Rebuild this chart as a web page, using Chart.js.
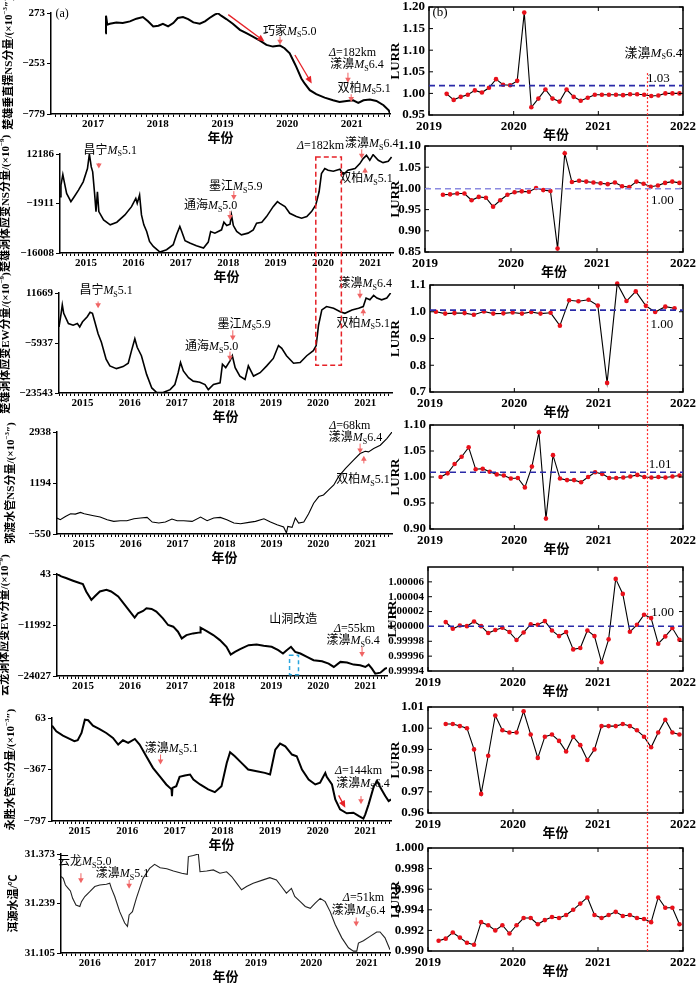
<!DOCTYPE html>
<html>
<head>
<meta charset="utf-8">
<script src="https://cdn.jsdelivr.net/npm/chart.js@4.4.0/dist/chart.umd.min.js"></script>
<style>
html, body { margin: 0; padding: 0; background: #fff; }
#page { position: relative; width: 700px; height: 983px; overflow: hidden; background: #fff; }
canvas { position: absolute; }
</style>
</head>
<body>
<div id="page"></div>
<script>
// ---------- left column: station records (decimal year, value) ----------
const p1Year = [2017.69,2017.70,2017.72,2017.76,2017.86,2017.96,2018.07,2018.17,2018.27,2018.35,2018.43,2018.51,2018.58,2018.66,2018.74,2018.81,2018.89,2018.97,2019.05,2019.15,2019.23,2019.30,2019.38,2019.43,2019.48,2019.56,2019.66,2019.77,2019.87,2019.97,2020.08,2020.18,2020.28,2020.39,2020.46,2020.54,2020.59,2020.64,2020.72,2020.77,2020.85,2020.95,2021.08,2021.21,2021.31,2021.42,2021.52,2021.60,2021.68,2021.78,2021.88,2021.99,2022.07,2022.09];
const p1Val = [63,245,151,161,175,168,186,214,231,186,133,140,161,133,168,221,231,210,175,161,186,221,256,270,245,210,161,98,63,28,-14,-59,-77,-66,-94,-146,-216,-286,-409,-461,-531,-573,-608,-636,-653,-643,-636,-664,-636,-629,-643,-688,-740,-775];
const p1Ticks = [-779, -253, 273];

const p2Year = [2014.95,2014.97,2015.01,2015.04,2015.09,2015.18,2015.25,2015.34,2015.44,2015.53,2015.57,2015.61,2015.64,2015.68,2015.71,2015.74,2015.77,2015.87,2016.01,2016.15,2016.32,2016.46,2016.55,2016.58,2016.63,2016.67,2016.72,2016.78,2016.84,2016.92,2017.06,2017.20,2017.34,2017.41,2017.48,2017.52,2017.59,2017.69,2017.83,2017.98,2018.08,2018.13,2018.22,2018.36,2018.41,2018.47,2018.54,2018.57,2018.61,2018.68,2018.78,2018.92,2019.03,2019.10,2019.21,2019.31,2019.45,2019.54,2019.59,2019.70,2019.80,2019.94,2020.05,2020.16,2020.26,2020.35,2020.42,2020.47,2020.54,2020.61,2020.72,2020.86,2020.93,2021.03,2021.18,2021.28,2021.35,2021.42,2021.49,2021.56,2021.67,2021.77,2021.88,2021.95];
const p2Val = [21,3322,6340,4265,964,-1393,21,1907,4265,8037,12186,8509,7094,964,-4222,1436,-4222,-6579,-7994,-7240,-5165,-2808,-450,-1865,493,-5165,-7994,-9880,-12709,-14124,-15727,-15067,-13653,-10824,-8466,-9880,-12520,-13181,-13935,-14595,-12898,-9880,-10352,-9408,-7240,-8183,-7806,-5165,-8183,-9880,-10824,-10352,-9408,-7523,-7240,-5637,-2808,-1393,-1865,-2808,-4693,-5637,-6108,-5637,-4222,-2337,1436,6622,8037,7565,7283,7848,6340,7565,8037,9451,10866,11809,10394,11997,10394,9734,10111,11337];
const p2Ticks = [-16008, -1911, 12186];

const p3Year = [2015.00,2015.04,2015.07,2015.10,2015.20,2015.30,2015.39,2015.44,2015.50,2015.60,2015.66,2015.71,2015.76,2015.83,2015.90,2016.00,2016.08,2016.22,2016.36,2016.47,2016.54,2016.61,2016.66,2016.75,2016.86,2016.97,2017.07,2017.21,2017.36,2017.46,2017.53,2017.58,2017.64,2017.75,2017.85,2017.99,2018.10,2018.17,2018.28,2018.42,2018.47,2018.54,2018.63,2018.68,2018.74,2018.84,2018.95,2019.02,2019.13,2019.27,2019.41,2019.55,2019.66,2019.73,2019.83,2019.98,2020.12,2020.26,2020.40,2020.46,2020.51,2020.58,2020.68,2020.83,2020.97,2021.07,2021.22,2021.36,2021.46,2021.52,2021.60,2021.68,2021.75,2021.85,2021.96,2022.04];
const p3Val = [-271,3908,7490,4505,923,326,923,-271,1520,3311,4863,4505,1520,-2659,-5644,-11614,-14002,-14957,-14241,-13047,-8629,-4450,-7435,-10420,-16987,-21763,-23315,-23400,-22360,-20569,-16390,-12808,-15793,-18181,-19375,-19733,-20569,-22360,-20569,-19972,-13405,-14599,-12211,-10420,-14599,-17584,-18778,-13998,-17584,-16390,-13998,-11374,-6838,-7793,-10420,-13047,-12808,-10420,-8629,-6838,326,5699,6893,6296,5102,4505,5699,6296,6893,9878,9281,10833,9878,9281,9878,11669];
const p3Ticks = [-23543, -5937, 11669];

const p4Year = [2014.93,2015.00,2015.11,2015.22,2015.32,2015.43,2015.51,2015.61,2015.71,2015.85,2016.00,2016.14,2016.28,2016.42,2016.57,2016.71,2016.85,2016.96,2017.10,2017.24,2017.38,2017.49,2017.63,2017.81,2017.99,2018.13,2018.27,2018.41,2018.55,2018.70,2018.84,2019.02,2019.16,2019.34,2019.48,2019.62,2019.76,2019.82,2019.85,2019.94,2020.01,2020.08,2020.19,2020.29,2020.40,2020.51,2020.61,2020.72,2020.83,2020.93,2021.08,2021.25,2021.39,2021.50,2021.57,2021.68,2021.82,2021.96,2022.07];
const p4Val = [-5,-62,51,142,131,187,142,108,74,29,-62,-118,-96,-96,-28,-5,17,-141,-175,-141,-39,-96,-96,-118,29,-96,-5,17,-62,-175,-198,-153,-118,-28,-141,-232,-311,-515,-289,-322,-5,-175,-141,131,504,731,787,957,1127,1410,1693,1976,2202,2281,2259,2372,2485,2712,2938];
const p4Ticks = [-550, 1194, 2938];

const p5Year = [2014.95,2015.04,2015.14,2015.29,2015.43,2015.50,2015.57,2015.68,2015.75,2015.86,2016.00,2016.10,2016.25,2016.39,2016.53,2016.60,2016.67,2016.78,2016.85,2016.96,2017.06,2017.20,2017.31,2017.42,2017.52,2017.60,2017.70,2017.84,2017.99,2018.00,2018.13,2018.27,2018.41,2018.55,2018.64,2018.73,2018.84,2019.02,2019.19,2019.34,2019.51,2019.65,2019.75,2019.83,2019.92,2020.01,2020.12,2020.26,2020.40,2020.58,2020.72,2020.83,2020.97,2021.11,2021.25,2021.39,2021.50,2021.57,2021.64,2021.71,2021.82,2021.92,2021.96];
const p5Val = [43,-511,-907,-1541,-2095,-2332,-4074,-6054,-5262,-4074,-3678,-4074,-5262,-7242,-9221,-10250,-9221,-8667,-8033,-8192,-8825,-10409,-11992,-12388,-13576,-15159,-14367,-13972,-13734,-12626,-13418,-14367,-15555,-17139,-18960,-18327,-17693,-16743,-16584,-16901,-17139,-17931,-18723,-17931,-17139,-18327,-18723,-19514,-20306,-20544,-21098,-21890,-20702,-20860,-21336,-21494,-21890,-21336,-22286,-23474,-23237,-22286,-22127];
const p5Ticks = [-24027, -11992, 43];

const p6Year = [2014.92,2015.01,2015.15,2015.29,2015.39,2015.46,2015.54,2015.61,2015.68,2015.78,2015.92,2016.06,2016.20,2016.31,2016.41,2016.52,2016.66,2016.76,2016.90,2017.04,2017.18,2017.32,2017.43,2017.44,2017.45,2017.53,2017.60,2017.71,2017.82,2017.89,2018.03,2018.20,2018.34,2018.48,2018.59,2018.66,2018.76,2018.90,2019.04,2019.22,2019.39,2019.50,2019.61,2019.71,2019.82,2019.96,2020.06,2020.17,2020.31,2020.45,2020.55,2020.66,2020.69,2020.80,2020.87,2020.97,2021.11,2021.25,2021.36,2021.46,2021.50,2021.57,2021.68,2021.75,2021.82,2021.92,2021.99,2022.04];
const p6Val = [-1,-48,-84,-112,-131,-123,-62,49,44,-1,-29,-62,-103,-159,-123,-145,-112,-159,-256,-353,-422,-492,-533,-589,-520,-506,-428,-417,-409,-450,-492,-533,-556,-506,-312,-223,-256,-312,-367,-381,-395,-409,-201,-151,-173,-242,-256,-367,-450,-492,-478,-395,-428,-492,-617,-700,-733,-728,-755,-777,-741,-658,-506,-464,-520,-589,-631,-617];
const p6Ticks = [-797, -367, 63];

const p7Year = [2015.98,2016.02,2016.06,2016.11,2016.15,2016.19,2016.25,2016.32,2016.35,2016.41,2016.50,2016.59,2016.68,2016.80,2016.86,2016.89,2016.95,2017.04,2017.13,2017.18,2017.21,2017.27,2017.34,2017.46,2017.58,2017.67,2017.77,2017.89,2018.01,2018.16,2018.26,2018.28,2018.37,2018.46,2018.49,2018.61,2018.73,2018.85,2018.97,2019.06,2019.15,2019.24,2019.33,2019.45,2019.63,2019.75,2019.87,2019.96,2020.05,2020.14,2020.20,2020.30,2020.39,2020.48,2020.57,2020.66,2020.75,2020.84,2020.93,2021.05,2021.17,2021.26,2021.32,2021.35,2021.44,2021.56,2021.68,2021.74,2021.83,2021.92];
const p7Val = [31.312,31.307,31.289,31.280,31.273,31.253,31.235,31.231,31.244,31.258,31.271,31.285,31.289,31.291,31.294,31.280,31.258,31.217,31.186,31.177,31.208,31.217,31.253,31.307,31.334,31.345,31.336,31.333,31.327,31.321,31.318,31.366,31.369,31.373,31.325,31.327,31.330,31.321,31.325,31.312,31.294,31.276,31.285,31.294,31.303,31.309,31.303,31.285,31.267,31.280,31.258,31.244,31.231,31.226,31.240,31.253,31.244,31.217,31.182,31.146,31.119,31.110,31.110,31.132,31.138,31.150,31.162,31.162,31.146,31.114];
const p7Ticks = [31.105, 31.239, 31.373];

// ---------- right column: LURR ----------
const monthsFeb = ['2019-02','2019-03','2019-04','2019-05','2019-06','2019-07','2019-08','2019-09','2019-10','2019-11','2019-12',
  '2020-01','2020-02','2020-03','2020-04','2020-05','2020-06','2020-07','2020-08','2020-09','2020-10','2020-11','2020-12',
  '2021-01','2021-02','2021-03','2021-04','2021-05','2021-06','2021-07','2021-08','2021-09','2021-10','2021-11','2021-12'];
const monthsMar = monthsFeb.slice(1);
const r3Year = [2019.07,2019.18,2019.29,2019.41,2019.52,2019.64,2019.75,2019.87,2019.98,2020.09,2020.20,2020.31,2020.43,2020.54,2020.65,2020.76,2020.88,2020.99,2021.10,2021.22,2021.33,2021.44,2021.56,2021.67,2021.79,2021.90];

const r1Lurr = [0.999,0.985,0.992,0.997,1.007,1.002,1.013,1.033,1.020,1.019,1.029,1.187,0.968,0.988,1.009,0.988,0.981,1.009,0.992,0.983,0.990,0.997,0.997,0.997,0.997,0.996,0.998,0.998,0.997,0.994,0.995,1.000,1.000,1.000];
const r2Lurr = [0.985,0.986,0.988,0.988,0.972,0.980,0.978,0.957,0.972,0.985,0.991,0.993,0.992,1.001,0.996,0.994,0.858,1.083,1.015,1.018,1.016,1.014,1.012,1.010,1.014,1.005,1.003,1.016,1.011,1.004,1.007,1.013,1.016,1.013];
const r3Lurr = [1.000,0.993,0.995,0.995,0.989,1.001,0.993,0.994,0.997,0.993,0.999,0.993,0.996,0.948,1.043,1.039,1.045,1.023,0.734,1.105,1.040,1.076,1.022,0.999,1.019,1.013];
const r4Lurr = [1.000,1.007,1.025,1.039,1.057,1.015,1.016,1.010,1.005,1.003,0.997,0.998,0.980,1.020,1.086,0.920,1.042,0.997,0.994,0.994,0.990,1.000,1.009,1.006,0.998,0.998,0.999,1.001,1.004,1.000,0.999,1.000,0.999,1.001,1.003];
const r5Lurr = [1.0000058,0.9999969,1.0000013,1.0000004,1.0000067,1.0000004,0.9999911,0.9999951,0.9999982,0.9999924,0.9999817,0.9999919,1.0000027,1.0000022,1.0000072,0.9999946,0.9999870,0.9999924,0.9999691,0.9999709,0.9999946,0.9999870,0.9999517,0.9999826,1.0000640,1.0000438,0.9999928,1.0000022,1.0000157,1.0000112,0.9999767,0.9999866,0.9999978,0.9999821];
const r6Lurr = [1.002,1.002,1.001,1.000,0.990,0.969,0.987,1.006,0.999,0.998,0.998,1.008,0.997,0.986,0.996,0.997,0.994,0.989,0.996,0.992,0.985,0.990,1.001,1.001,1.001,1.002,1.001,0.999,0.996,0.991,0.998,1.004,0.998,0.997];
const r7Lurr = [0.9910,0.9912,0.9918,0.9913,0.9908,0.9906,0.9928,0.9925,0.9920,0.9925,0.9917,0.9925,0.9932,0.9932,0.9926,0.9930,0.9933,0.9932,0.9935,0.9940,0.9946,0.9952,0.9935,0.9932,0.9935,0.9938,0.9934,0.9935,0.9932,0.9931,0.9928,0.9952,0.9942,0.9942,0.9926];

const r1Ticks = [0.95,1.00,1.05,1.10,1.15,1.20];
const r2Ticks = [0.85,0.90,0.95,1.00,1.05,1.10];
const r3Ticks = [0.7,0.8,0.9,1.0,1.1];
const r4Ticks = [0.90,0.95,1.00,1.05,1.10];
const r5Ticks = [0.99994,0.99996,0.99998,1.00000,1.00002,1.00004,1.00006];
const r6Ticks = [0.96,0.97,0.98,0.99,1.00,1.01];
const r7Ticks = [0.990,0.992,0.994,0.996,0.998,1.000];
const thresholds = [1.018, 0.999, 1.006, 1.009, 1.0000003];

const quakeLine = 2021.58;       // dotted red line across the LURR panels
const redBoxYears = [2020.35, 2020.89];

// ---------- helpers ----------
const SERIF = '"Liberation Serif", "Noto Sans CJK SC", serif';
const CJK = '"Noto Sans CJK SC", sans-serif';
const PINK = '#f06464', RED = '#e62228', CYAN = '#2aa6de', BLUE = '#2a2aa8', LBLUE = '#8a8ae0';
const ym = s => +s.slice(0, 4) + (+s.slice(5) - 0.5) / 12;
const fmt = v => String(v).replace('-', '\u2212');

const ms = (place, mag) => [[place], ['M', 'i'], ['S', 's'], [mag]];
const dl = s => [['\u0394', 'i'], ['=' + s]];
const T = (x, y, parts, align) => ({ k: 't', x, y, parts, align: align || 'center' });
const A = (x1, y1, x2, y2, c, w) => ({ k: 'a', x1, y1, x2, y2, c: c || PINK, w: w || 1 });
const R = (x1, y1, x2, y2, c) => ({ k: 'r', x1, y1, x2, y2, c });

function drawRich(ctx, parts, x, y, size, align, bold) {
    const segs = parts.map(([t, k]) => {
        const sz = (k === 's' || k === 'p') ? Math.round(size * 0.65) : size;
        const f = (k === 'i' ? 'italic ' : '') + (bold ? 'bold ' : '') + sz + 'px ' + SERIF;
        ctx.font = f;
        return { t, k, f, w: ctx.measureText(t).width };
    });
    const total = segs.reduce((s, g) => s + g.w, 0);
    let cx = align === 'left' ? x : align === 'right' ? x - total : x - total / 2;
    ctx.textAlign = 'left';
    ctx.textBaseline = 'middle';
    segs.forEach(g => {
        ctx.font = g.f;
        const dy = g.k === 's' ? size * 0.32 : g.k === 'p' ? -size * 0.35 : 0;
        ctx.fillText(g.t, cx, y + dy);
        cx += g.w;
    });
}

function arrow(ctx, x1, y1, x2, y2, color, w) {
    const ang = Math.atan2(y2 - y1, x2 - x1);
    const hl = w > 1.2 ? 7 : 5, hw = w > 1.2 ? 3.2 : 2.8;
    const c = Math.cos(ang), s = Math.sin(ang);
    ctx.strokeStyle = color; ctx.fillStyle = color; ctx.lineWidth = w;
    ctx.beginPath();
    ctx.moveTo(x1, y1);
    ctx.lineTo(x2 - hl * 0.7 * c, y2 - hl * 0.7 * s);
    ctx.stroke();
    ctx.beginPath();
    ctx.moveTo(x2, y2);
    ctx.lineTo(x2 - hl * c + hw * s, y2 - hl * s - hw * c);
    ctx.lineTo(x2 - hl * c - hw * s, y2 - hl * s + hw * c);
    ctx.closePath();
    ctx.fill();
}

// draws titles, boxes, reference lines and the event notes
const decor = {
    id: 'decor',
    afterDraw(chart) {
        const d = chart.canvas.decor;
        if (!d) return;
        const ctx = chart.ctx, a = chart.chartArea, xs = chart.scales.x, ys = chart.scales.y;
        ctx.save();
        if (d.box) {
            ctx.strokeStyle = '#000';
            ctx.lineWidth = 1.5;
            ctx.strokeRect(a.left, a.top, a.right - a.left, a.bottom - a.top);
            ctx.lineWidth = 1;
            ctx.beginPath();
            xs.ticks.forEach(t => {
                const px = xs.getPixelForValue(t.value);
                ctx.moveTo(px, a.bottom); ctx.lineTo(px, a.bottom - 4);
                ctx.moveTo(px, a.top); ctx.lineTo(px, a.top + 4);
            });
            ys.ticks.forEach(t => {
                const py = ys.getPixelForValue(t.value);
                ctx.moveTo(a.left, py); ctx.lineTo(a.left + 4, py);
                ctx.moveTo(a.right, py); ctx.lineTo(a.right - 4, py);
            });
            ctx.stroke();
        }
        if (d.threshold) {
            const py = ys.getPixelForValue(d.threshold.v);
            ctx.strokeStyle = d.threshold.c;
            ctx.lineWidth = 1.6;
            ctx.setLineDash([6, 4]);
            ctx.beginPath(); ctx.moveTo(a.left, py); ctx.lineTo(a.right, py); ctx.stroke();
            ctx.setLineDash([]);
        }
        (d.notes || []).forEach(n => {
            if (n.k === 't') {
                ctx.fillStyle = '#000';
                drawRich(ctx, n.parts, xs.getPixelForValue(n.x), ys.getPixelForValue(n.y), d.noteSize, n.align, false);
            } else if (n.k === 'a') {
                arrow(ctx, xs.getPixelForValue(n.x1), ys.getPixelForValue(n.y1), xs.getPixelForValue(n.x2), ys.getPixelForValue(n.y2), n.c, n.w);
            } else if (n.k === 'r') {
                const x1 = xs.getPixelForValue(n.x1), x2 = xs.getPixelForValue(n.x2);
                const y1 = ys.getPixelForValue(n.y1), y2 = ys.getPixelForValue(n.y2);
                ctx.strokeStyle = n.c; ctx.lineWidth = 1.5; ctx.setLineDash([4, 3]);
                ctx.strokeRect(x1, y1, x2 - x1, y2 - y1);
                ctx.setLineDash([]);
            }
        });
        ctx.fillStyle = '#000';
        ctx.save();
        ctx.translate(d.titleX, (a.top + a.bottom) / 2);
        ctx.rotate(-Math.PI / 2);
        drawRich(ctx, d.title, 0, 0, d.titleSize, 'center', true);
        ctx.restore();
        ctx.font = 'bold 13px ' + CJK;
        ctx.textAlign = 'center';
        ctx.textBaseline = 'middle';
        ctx.fillText('年份', (a.left + a.right) / 2, a.bottom + d.xTitleDy);
        ctx.restore();
    }
};

const page = document.getElementById('page');

function makeChart(p) {
    const [L, Tp, Rt, B] = p.area;
    const left = p.side === 'L';
    const cl = left ? 0 : 380, cw = left ? 400 : 320;
    const ct = Tp - 30, ch = B - Tp + 66;
    const cv = document.createElement('canvas');
    cv.width = cw; cv.height = ch;
    cv.style.left = cl + 'px'; cv.style.top = ct + 'px';
    cv.style.width = cw + 'px'; cv.style.height = ch + 'px';
    cv.decor = p.decor;
    page.appendChild(cv);

    const pts = p.xs.map((x, i) => ({ x, y: p.vs[i] }));
    const dataset = left
        ? { data: pts, borderColor: p.color || '#000', borderWidth: p.lw, pointRadius: 0, tension: 0, fill: false }
        : { data: pts, borderColor: '#000', borderWidth: 1.1, pointRadius: 2.3, pointBackgroundColor: '#e8101a',
            pointBorderColor: '#e8101a', pointBorderWidth: 0, tension: 0, fill: false, clip: false };

    const tickFont = { family: SERIF, size: left ? 11 : 13, weight: 'bold' };
    const yFont = { family: SERIF, size: p.ySize || tickFont.size, weight: 'bold' };
    const xScale = left ? {
        type: 'linear', min: p.xMin, max: p.xMax,
        afterBuildTicks: s => {
            const t = [];
            for (let yr = Math.floor(s.min); yr <= Math.ceil(s.max); yr++) {
                for (let m = 0; m < 12; m++) {
                    const v = yr + m / 12;
                    if (v >= s.min && v <= s.max) t.push({ value: v });
                }
            }
            s.ticks = t;
        },
        ticks: { autoSkip: false, maxRotation: 0, padding: 1, color: '#000', font: tickFont,
            callback: v => Math.abs(v - Math.floor(v) - 0.5) < 1e-6 ? String(Math.floor(v)) : '' },
        grid: { drawOnChartArea: false, color: '#000', tickLength: 3, lineWidth: 1 },
        border: { color: '#000', width: 1.5 },
        afterFit: s => { s.height = 20; }
    } : {
        type: 'linear', min: 2019, max: 2022,
        ticks: { stepSize: 1, maxRotation: 0, padding: 4, color: '#000', font: tickFont, callback: v => String(v) },
        grid: { display: false, drawTicks: false },
        border: { display: false },
        afterFit: s => { s.height = 20; }
    };
    const yScale = {
        type: 'linear',
        min: p.yTicks[0], max: p.yMax !== undefined ? p.yMax : p.yTicks[p.yTicks.length - 1],
        afterBuildTicks: s => { s.ticks = p.yTicks.map(v => ({ value: v })); },
        ticks: { padding: left ? 2 : 4, color: '#000', font: yFont,
            callback: v => left ? fmt(v) : v.toFixed(p.dec) },
        grid: left ? { drawOnChartArea: false, color: '#000', tickLength: 4 } : { display: false, drawTicks: false },
        border: left ? { color: '#000', width: 1.5 } : { display: false },
        afterFit: s => { s.width = L - cl; }
    };

    const chart = new Chart(cv, {
        type: 'line',
        data: { datasets: [dataset] },
        options: {
            responsive: false, animation: false, devicePixelRatio: 1, events: [],
            layout: { padding: { top: 30, bottom: 16, left: 0, right: cw - (Rt - cl) } },
            plugins: { legend: { display: false }, tooltip: { enabled: false } },
            scales: { x: xScale, y: yScale }
        },
        plugins: [decor]
    });
    return { chart, cl, ct };
}

const sup = (name, exp, tail) => [[name + '/(\u00d710'], [exp, 'p'], [tail]];

const leftPanels = {
    p1: { area: [51, 13, 390, 114], xs: p1Year, vs: p1Val, yTicks: p1Ticks, xMin: 2016.85, xMax: 2022.09, lw: 2,
        decor: { title: sup('楚雄垂直摆NS分量', '\u22123', '\u2033)'), titleX: 9, notes: [
            T(2016.92, 266, [['(a)']], 'left'),
            A(2019.59, 256, 2020.15, -24, RED, 1.3),
            T(2020.54, 81, ms('巧家', '5.0')),
            A(2020.39, 28, 2020.39, -59),
            A(2020.62, -164, 2020.88, -461, RED, 1.3),
            T(2021.51, -146, dl('182km')),
            T(2021.58, -269, ms('漾濞', '6.4')),
            A(2021.44, -349, 2021.44, -454),
            T(2021.69, -513, ms('双柏', '5.1')),
            A(2021.49, -573, 2021.49, -653)] } },
    p2: { area: [60, 154, 393, 253], xs: p2Year, vs: p2Val, yTicks: p2Ticks, xMin: 2014.95, xMax: 2021.98, lw: 1.6,
        decor: { title: sup('楚雄洞体应变NS分量', '\u22129', ')'), titleX: 6, notes: [
            T(2016.01, 13223, ms('昌宁', '5.1')),
            A(2015.77, 9640, 2015.77, 8037),
            T(2018.66, 2850, ms('墨江', '5.9')),
            A(2018.62, 1624, 2018.62, -922),
            T(2018.13, -2619, ms('通海', '5.0')),
            A(2018.54, -4034, 2018.54, -6579),
            T(2020.45, 14638, dl('182km')),
            T(2021.53, 15109, ms('漾濞', '6.4')),
            A(2021.32, 13506, 2021.32, 10866),
            T(2021.41, 5019, ms('双柏', '5.1')),
            A(2021.39, 6622, 2021.39, 8320)] } },
    p3: { area: [59, 293, 392, 393], xs: p3Year, vs: p3Val, yTicks: p3Ticks, xMin: 2015.0, xMax: 2022.07, lw: 1.6,
        decor: { title: sup('楚雄洞体应变EW分量', '\u22129', ')'), titleX: 6, notes: [
            T(2016.0, 12266, ms('昌宁', '5.1')),
            A(2015.83, 8684, 2015.83, 6296),
            T(2018.93, 565, ms('墨江', '5.9')),
            A(2018.69, -1465, 2018.69, -5047),
            T(2018.24, -7196, ms('通海', '5.0')),
            A(2018.63, -8987, 2018.63, -12211),
            T(2021.5, 14893, ms('漾濞', '6.4')),
            A(2021.39, 12863, 2021.39, 9639),
            T(2021.46, 923, ms('双柏', '5.1')),
            A(2021.46, 3669, 2021.46, 6296)] } },
    p4: { area: [57, 432, 392, 534], xs: p4Year, vs: p4Val, yTicks: p4Ticks, xMin: 2014.93, xMax: 2022.07, lw: 1.1,
        decor: { title: sup('弥渡水管NS分量', '\u22123', '\u2033)'), titleX: 11, notes: [
            T(2021.17, 3164, dl('68km')),
            T(2021.29, 2734, ms('漾濞', '6.4')),
            A(2021.39, 2542, 2021.39, 2202),
            T(2021.45, 1297, ms('双柏', '5.1')),
            A(2021.47, 1863, 2021.47, 2123)] } },
    p5: { area: [57, 574, 387, 676], xs: p5Year, vs: p5Val, yTicks: p5Ticks, xMin: 2014.95, xMax: 2021.96, lw: 2,
        decor: { title: sup('云龙洞体应变EW分量', '\u22129', ')'), titleX: 5, notes: [
            T(2019.97, -10805, [['山洞改造']]),
            R(2019.89, -19118, 2020.08, -23711, CYAN),
            T(2021.27, -12943, dl('55km')),
            T(2021.24, -15793, ms('漾濞', '6.4')),
            A(2021.43, -17139, 2021.43, -19514)] } },
    p6: { area: [52, 718, 391, 821], xs: p6Year, vs: p6Val, yTicks: p6Ticks, xMin: 2014.92, xMax: 2022.04, lw: 2,
        decor: { title: sup('永胜水管NS分量', '\u22123', '\u2033)'), titleX: 11, notes: [
            T(2017.43, -195, ms('漾濞', '5.1')),
            A(2017.20, -242, 2017.20, -325),
            T(2021.36, -381, dl('144km')),
            T(2021.45, -484, ms('漾濞', '6.4')),
            A(2020.94, -583, 2021.08, -686, RED, 1.3),
            A(2021.41, -589, 2021.41, -658)] } },
    p7: { area: [61, 854, 390, 953], xs: p7Year, vs: p7Val, yTicks: p7Ticks, xMin: 2015.98, xMax: 2021.92, lw: 1.1, color: '#222',
        decor: { title: [['洱源水温/℃']], titleX: 14, notes: [
            T(2016.41, 31.352, ms('云龙', '5.0')),
            A(2016.34, 31.321, 2016.34, 31.294),
            T(2017.09, 31.318, ms('漾濞', '5.1')),
            A(2017.21, 31.303, 2017.21, 31.279),
            T(2021.44, 31.253, dl('51km')),
            T(2021.35, 31.219, ms('漾濞', '6.4')),
            A(2021.31, 31.201, 2021.31, 31.177)] } }
};

const lurr = [['LURR']];
const rightPanels = {
    r1: { area: [429, 7, 692, 115], xs: monthsMar.map(ym), vs: r1Lurr, yTicks: r1Ticks, dec: 2,
        decor: { box: true, threshold: { v: thresholds[0], c: BLUE }, title: lurr, titleX: 16, notes: [
            T(2019.04, 1.187, [['(b)']], 'left'),
            T(2021.65, 1.093, ms('漾濞', '6.4')),
            T(2021.71, 1.035, [['1.03']])] } },
    r2: { area: [425, 146, 690, 252], xs: monthsMar.map(ym), vs: r2Lurr, yTicks: r2Ticks, dec: 2,
        decor: { box: true, threshold: { v: thresholds[1], c: LBLUE }, title: lurr, titleX: 16, notes: [
            T(2021.76, 0.971, [['1.00']])] } },
    r3: { area: [430, 285, 692, 392], xs: r3Year, vs: r3Lurr, yTicks: r3Ticks, dec: 1,
        decor: { box: true, threshold: { v: thresholds[2], c: BLUE }, title: lurr, titleX: 16, notes: [
            T(2021.75, 0.952, [['1.00']])] } },
    r4: { area: [430, 425, 692, 529], xs: monthsFeb.map(ym), vs: r4Lurr, yTicks: r4Ticks, dec: 2,
        decor: { box: true, threshold: { v: thresholds[3], c: BLUE }, title: lurr, titleX: 16, notes: [
            T(2021.73, 1.024, [['1.01']])] } },
    r5: { area: [428, 567, 692, 671], xs: monthsMar.map(ym), vs: r5Lurr, yTicks: r5Ticks, yMax: 1.00008, dec: 5, ySize: 11,
        decor: { box: true, threshold: { v: thresholds[4], c: BLUE }, title: lurr, titleX: 13, notes: [
            T(2021.76, 1.0000183, [['1.00']])] } },
    r6: { area: [428, 707, 692, 813], xs: monthsMar.map(ym), vs: r6Lurr, yTicks: r6Ticks, dec: 2,
        decor: { box: true, title: lurr, titleX: 16, notes: [] } },
    r7: { area: [428, 848, 692, 951], xs: monthsFeb.map(ym), vs: r7Lurr, yTicks: r7Ticks, dec: 3,
        decor: { box: true, title: lurr, titleX: 16, notes: [] } }
};

const charts = {};
Object.entries(leftPanels).forEach(([k, p]) => {
    p.side = 'L';
    Object.assign(p.decor, { titleSize: 11, noteSize: 12, xTitleDy: 23 });
    charts[k] = makeChart(p);
});
Object.entries(rightPanels).forEach(([k, p]) => {
    p.side = 'R';
    Object.assign(p.decor, { titleSize: 13, noteSize: 13, xTitleDy: 19 });
    charts[k] = makeChart(p);
});

// cross-panel marks: red dashed box over (a) strain panels, dotted event line over (b)
const ov = document.createElement('canvas');
ov.width = 700; ov.height = 983;
ov.style.left = '0px'; ov.style.top = '0px';
ov.style.pointerEvents = 'none';
page.appendChild(ov);
const octx = ov.getContext('2d');

const c2 = charts.p2, c3 = charts.p3;
const bx1 = c2.cl + c2.chart.scales.x.getPixelForValue(redBoxYears[0]);
const bx2 = c2.cl + c2.chart.scales.x.getPixelForValue(redBoxYears[1]);
const by1 = c2.ct + c2.chart.scales.y.getPixelForValue(11337);
const by2 = c3.ct + c3.chart.scales.y.getPixelForValue(-13763);
octx.strokeStyle = RED;
octx.lineWidth = 1.5;
octx.setLineDash([5, 3]);
octx.strokeRect(bx1, by1, bx2 - bx1, by2 - by1);

const q1 = charts.r1, q7 = charts.r7;
const qx = Math.round(q1.cl + q1.chart.scales.x.getPixelForValue(quakeLine)) + 0.5;
const qTop = q1.ct + q1.chart.scales.y.getPixelForValue(1.047);
const qBot = q7.ct + q7.chart.chartArea.bottom;
octx.strokeStyle = '#ff2a2a';
octx.lineWidth = 1.2;
octx.setLineDash([2, 2]);
octx.beginPath();
octx.moveTo(qx, qTop);
octx.lineTo(qx, qBot);
octx.stroke();
</script>
</body>
</html>
